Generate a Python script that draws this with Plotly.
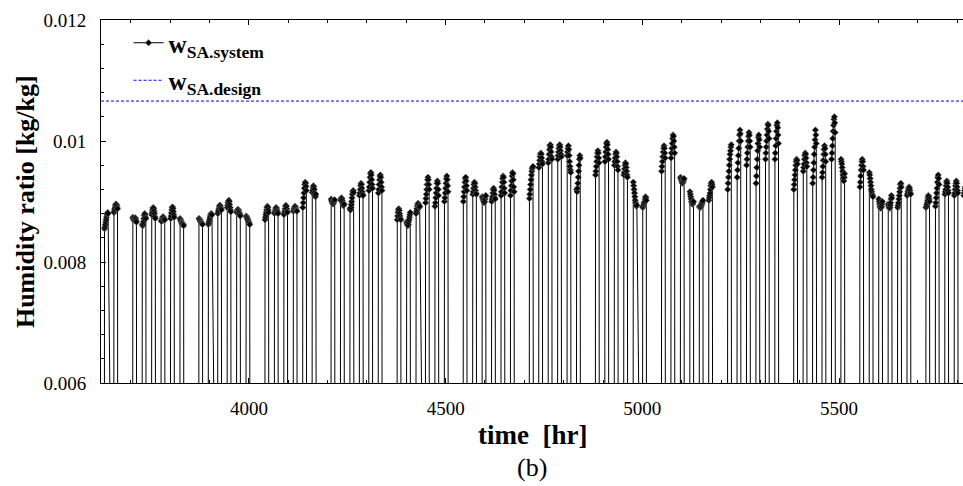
import plotly.graph_objects as go

# ---------------- data ----------------
start_hour = 3624          # 1 June, 00:00 (hour of year)
end_hour = 5832            # 31 August, 24:00
operating_hours = [9, 10, 11, 12, 13, 14, 15, 16, 17, 18]

working_days = [0, 1,
                3, 4, 5, 6, 7, 8,
                10, 11, 12, 13, 14, 15,
                17, 18, 19, 20, 21, 22,
                24, 25, 26, 27, 28, 29,
                31, 32, 33, 34, 35, 36,
                38, 39, 40, 41, 42, 43,
                45, 46, 47, 48, 49, 50,
                52, 53, 54, 55, 56, 57,
                59, 60, 61, 62, 63, 64,
                66, 67, 68, 69, 70, 71,
                73, 74, 75, 76, 77, 78,
                80, 81, 82, 83, 84, 85,
                87, 88, 89, 90, 91]

# supply-air humidity ratio during operation, g/kg (one row per working day)
w_sa_system_gkg = [
    [8.55, 8.58, 8.62, 8.66, 8.70, 8.74, 8.78, 8.80, 8.82, 8.80],
    [8.82, 8.85, 8.88, 8.91, 8.94, 8.96, 8.95, 8.93, 8.90, 8.88],
    [8.74, 8.72, 8.70, 8.69, 8.70, 8.72, 8.73, 8.71, 8.68, 8.66],
    [8.62, 8.60, 8.63, 8.67, 8.72, 8.77, 8.80, 8.78, 8.74, 8.72],
    [8.78, 8.82, 8.86, 8.89, 8.90, 8.88, 8.84, 8.80, 8.75, 8.72],
    [8.68, 8.67, 8.69, 8.72, 8.74, 8.75, 8.73, 8.71, 8.69, 8.70],
    [8.72, 8.76, 8.81, 8.86, 8.90, 8.91, 8.88, 8.83, 8.78, 8.74],
    [8.72, 8.70, 8.68, 8.66, 8.65, 8.64, 8.62, 8.63, 8.62, 8.60],
    [8.72, 8.71, 8.70, 8.68, 8.67, 8.66, 8.65, 8.64, 8.63, 8.62],
    [8.62, 8.64, 8.67, 8.70, 8.73, 8.76, 8.78, 8.80, 8.79, 8.78],
    [8.80, 8.83, 8.86, 8.89, 8.92, 8.94, 8.93, 8.90, 8.88, 8.86],
    [8.90, 8.94, 8.98, 9.01, 9.02, 9.00, 8.95, 8.90, 8.86, 8.83],
    [8.82, 8.84, 8.86, 8.87, 8.86, 8.84, 8.82, 8.80, 8.78, 8.76],
    [8.76, 8.75, 8.74, 8.72, 8.70, 8.68, 8.66, 8.65, 8.63, 8.62],
    [8.70, 8.74, 8.78, 8.82, 8.86, 8.90, 8.92, 8.90, 8.86, 8.82],
    [8.80, 8.82, 8.85, 8.88, 8.90, 8.89, 8.86, 8.84, 8.82, 8.80],
    [8.78, 8.80, 8.84, 8.88, 8.92, 8.94, 8.92, 8.88, 8.84, 8.82],
    [8.84, 8.86, 8.88, 8.90, 8.92, 8.91, 8.88, 8.86, 8.85, 8.84],
    [8.90, 8.98, 9.06, 9.14, 9.22, 9.28, 9.32, 9.30, 9.25, 9.18],
    [9.15, 9.18, 9.22, 9.26, 9.24, 9.20, 9.14, 9.10, 9.08, 9.12],
    [9.04, 9.02, 9.00, 8.98, 8.97, 8.96, 8.98, 9.00, 9.02, 9.03],
    [9.02, 9.04, 9.06, 9.05, 9.02, 8.98, 8.95, 8.93, 8.94, 8.96],
    [8.88, 8.86, 8.90, 8.95, 9.00, 9.06, 9.12, 9.16, 9.18, 9.15],
    [9.10, 9.14, 9.20, 9.26, 9.30, 9.28, 9.22, 9.16, 9.12, 9.10],
    [9.18, 9.24, 9.32, 9.40, 9.46, 9.48, 9.44, 9.36, 9.28, 9.22],
    [9.14, 9.20, 9.28, 9.36, 9.42, 9.44, 9.40, 9.32, 9.24, 9.18],
    [8.70, 8.76, 8.82, 8.86, 8.88, 8.85, 8.80, 8.76, 8.72, 8.70],
    [8.66, 8.64, 8.62, 8.60, 8.62, 8.66, 8.70, 8.74, 8.78, 8.82],
    [8.80, 8.84, 8.88, 8.92, 8.95, 8.97, 8.95, 8.92, 8.90, 8.92],
    [8.98, 9.05, 9.12, 9.20, 9.28, 9.36, 9.40, 9.36, 9.28, 9.20],
    [8.92, 8.98, 9.06, 9.14, 9.22, 9.30, 9.34, 9.30, 9.20, 9.10],
    [9.00, 9.06, 9.14, 9.22, 9.30, 9.38, 9.42, 9.36, 9.26, 9.16],
    [9.00, 9.08, 9.16, 9.24, 9.32, 9.38, 9.40, 9.34, 9.26, 9.18],
    [9.12, 9.16, 9.22, 9.28, 9.32, 9.30, 9.24, 9.18, 9.14, 9.12],
    [9.08, 9.06, 9.04, 9.02, 9.00, 8.98, 9.00, 9.04, 9.08, 9.10],
    [9.00, 9.04, 9.08, 9.14, 9.20, 9.22, 9.18, 9.12, 9.06, 9.04],
    [9.10, 9.16, 9.24, 9.32, 9.38, 9.42, 9.40, 9.32, 9.22, 9.14],
    [9.10, 9.18, 9.26, 9.34, 9.42, 9.48, 9.46, 9.36, 9.24, 9.16],
    [9.05, 9.12, 9.20, 9.28, 9.36, 9.44, 9.50, 9.54, 9.56, 9.58],
    [9.56, 9.62, 9.68, 9.74, 9.78, 9.80, 9.78, 9.72, 9.66, 9.62],
    [9.64, 9.70, 9.78, 9.86, 9.92, 9.94, 9.90, 9.82, 9.74, 9.70],
    [9.70, 9.76, 9.82, 9.88, 9.92, 9.94, 9.90, 9.84, 9.78, 9.74],
    [9.76, 9.82, 9.88, 9.92, 9.86, 9.76, 9.66, 9.58, 9.52, 9.48],
    [9.20, 9.16, 9.22, 9.30, 9.40, 9.50, 9.60, 9.70, 9.76, 9.72],
    [9.44, 9.50, 9.58, 9.66, 9.74, 9.80, 9.84, 9.80, 9.72, 9.64],
    [9.66, 9.74, 9.82, 9.90, 9.96, 9.98, 9.94, 9.86, 9.78, 9.70],
    [9.60, 9.66, 9.72, 9.78, 9.82, 9.80, 9.74, 9.66, 9.58, 9.52],
    [9.44, 9.48, 9.54, 9.60, 9.64, 9.62, 9.56, 9.50, 9.44, 9.40],
    [9.32, 9.26, 9.20, 9.14, 9.08, 9.02, 8.98, 8.94, 8.92, 8.94],
    [8.90, 8.92, 8.94, 8.96, 8.98, 9.00, 9.04, 9.08, 9.06, 9.02],
    [9.50, 9.58, 9.66, 9.74, 9.82, 9.88, 9.92, 9.88, 9.80, 9.72],
    [9.72, 9.80, 9.88, 9.96, 10.04, 10.10, 10.08, 10.00, 9.90, 9.80],
    [9.40, 9.38, 9.36, 9.34, 9.32, 9.30, 9.32, 9.34, 9.36, 9.38],
    [9.16, 9.12, 9.08, 9.04, 9.00, 8.98, 8.96, 8.96, 8.98, 9.00],
    [8.92, 8.90, 8.90, 8.91, 8.92, 8.94, 8.96, 8.98, 9.00, 9.02],
    [9.02, 9.06, 9.10, 9.14, 9.20, 9.26, 9.30, 9.32, 9.28, 9.24],
    [9.20, 9.30, 9.40, 9.50, 9.60, 9.70, 9.78, 9.84, 9.90, 9.94],
    [9.40, 9.52, 9.64, 9.76, 9.88, 10.00, 10.10, 10.18, 10.12, 10.00],
    [9.60, 9.70, 9.80, 9.90, 10.00, 10.08, 10.14, 10.10, 10.00, 9.90],
    [9.30, 9.42, 9.56, 9.70, 9.84, 9.96, 10.06, 10.10, 10.02, 9.90],
    [9.70, 9.80, 9.90, 10.00, 10.10, 10.20, 10.28, 10.26, 10.16, 10.04],
    [9.70, 9.80, 9.92, 10.04, 10.16, 10.26, 10.30, 10.22, 10.10, 9.96],
    [9.20, 9.28, 9.36, 9.44, 9.52, 9.60, 9.66, 9.70, 9.68, 9.62],
    [9.50, 9.56, 9.62, 9.70, 9.76, 9.80, 9.78, 9.72, 9.64, 9.58],
    [9.30, 9.40, 9.52, 9.64, 9.78, 9.90, 10.02, 10.18, 10.10, 9.96],
    [9.40, 9.48, 9.58, 9.68, 9.78, 9.86, 9.92, 9.88, 9.78, 9.66],
    [9.70, 9.80, 9.92, 10.04, 10.16, 10.26, 10.36, 10.40, 10.30, 10.14],
    [9.70, 9.66, 9.62, 9.56, 9.50, 9.44, 9.38, 9.34, 9.40, 9.46],
    [9.24, 9.32, 9.42, 9.52, 9.60, 9.66, 9.70, 9.66, 9.58, 9.52],
    [9.48, 9.44, 9.38, 9.32, 9.26, 9.20, 9.16, 9.12, 9.10, 9.08],
    [9.04, 9.00, 8.96, 8.92, 8.90, 8.89, 8.90, 8.92, 8.96, 9.00],
    [8.96, 8.93, 8.90, 8.89, 8.90, 8.94, 8.98, 9.04, 9.10, 9.06],
    [8.90, 8.94, 8.98, 9.04, 9.10, 9.16, 9.22, 9.28, 9.30, 9.24],
    [9.10, 9.13, 9.16, 9.19, 9.22, 9.24, 9.22, 9.18, 9.14, 9.12],
    [8.90, 8.92, 8.95, 8.98, 9.02, 9.06, 9.10, 9.08, 9.04, 9.00],
    [8.92, 8.98, 9.06, 9.14, 9.22, 9.32, 9.40, 9.44, 9.38, 9.28],
    [9.12, 9.16, 9.20, 9.26, 9.32, 9.34, 9.30, 9.24, 9.18, 9.14],
    [9.10, 9.14, 9.20, 9.26, 9.30, 9.34, 9.30, 9.24, 9.18, 9.14],
    [9.10, 9.14, 9.18, 9.22, 9.24, 9.22, 9.18, 9.14, 9.12, 9.10],
]

w_sa_design = [0.01066, 0.01066]

x_ticks = [4000, 4500, 5000, 5500]
y_ticks = [0.006, 0.008, 0.010, 0.012]
y_tick_text = ["0.006", "0.008", "0.01", "0.012"]

# ------------- hourly series (0 when system is off) -------------
lookup = {}
for d, row in zip(working_days, w_sa_system_gkg):
    for h, v in zip(operating_hours, row):
        lookup[start_hour + 24 * d + h] = v / 1000.0

hours = list(range(start_hour, end_hour + 1))
w_sys = [lookup.get(t, 0.0) for t in hours]

SERIF = "Liberation Serif, Times New Roman, serif"

fig = go.Figure()
fig.add_trace(go.Scatter(
    x=hours, y=w_sys, mode="lines+markers",
    name="<b>w<sub>SA.system</sub></b>",
    line=dict(color="black", width=1),
    marker=dict(symbol="diamond", size=5, color="black",
                line=dict(color="#777777", width=0.5)),
    legendgroup="a",
))
fig.add_trace(go.Scatter(
    x=[start_hour, end_hour], y=w_sa_design, mode="lines",
    name="<b>w<sub>SA.design</sub></b>",
    line=dict(color="#0000ff", width=1, dash="3px,2px"),
    legendgroup="b",
))

fig.update_layout(
    width=963, height=486,
    margin=dict(l=101, r=0, t=20, b=103),
    paper_bgcolor="white", plot_bgcolor="white",
    font=dict(family=SERIF, color="black", size=18),
    showlegend=True,
    legend=dict(x=0.032, y=1.0, xanchor="left", yanchor="top",
                bgcolor="rgba(0,0,0,0)", tracegroupgap=2,
                font=dict(family=SERIF, size=25, color="black")),
    xaxis=dict(range=[start_hour, 5815], tickvals=x_ticks,
               ticks="inside", ticklen=5, tickcolor="black",
               showline=True, linecolor="black", linewidth=1,
               mirror="allticks", showgrid=False, zeroline=False,
               ticklabelstandoff=8,
               minor=dict(dtick=100, tick0=0, ticks="inside", ticklen=3,
                          tickcolor="black", showgrid=False),
               tickfont=dict(family=SERIF, size=19, color="black")),
    yaxis=dict(range=[0.006, 0.012], tickvals=y_ticks, ticktext=y_tick_text,
               ticks="inside", ticklen=5, tickcolor="black",
               showline=True, linecolor="black", linewidth=1,
               showgrid=False, zeroline=False, ticklabelstandoff=10,
               minor=dict(dtick=0.0004, tick0=0.006, ticks="inside",
                          ticklen=3, tickcolor="black", showgrid=False),
               tickfont=dict(family=SERIF, size=19, color="black")),
    annotations=[
        dict(text="<b>Humidity ratio [kg/kg]</b>", xref="paper", yref="paper",
             x=-0.0875, y=0.5, textangle=-90, showarrow=False,
             xanchor="center", yanchor="middle",
             font=dict(family=SERIF, size=26, color="black")),
        dict(text="<b>time  [hr]</b>", xref="paper", yref="paper",
             x=0.5, y=-0.143, showarrow=False, xanchor="center",
             yanchor="middle", font=dict(family=SERIF, size=27, color="black")),
        dict(text="(b)", xref="paper", yref="paper",
             x=0.5, y=-0.233, showarrow=False, xanchor="center",
             yanchor="middle", font=dict(family=SERIF, size=26, color="black")),
    ],
)

fig.write_html("out.html")
